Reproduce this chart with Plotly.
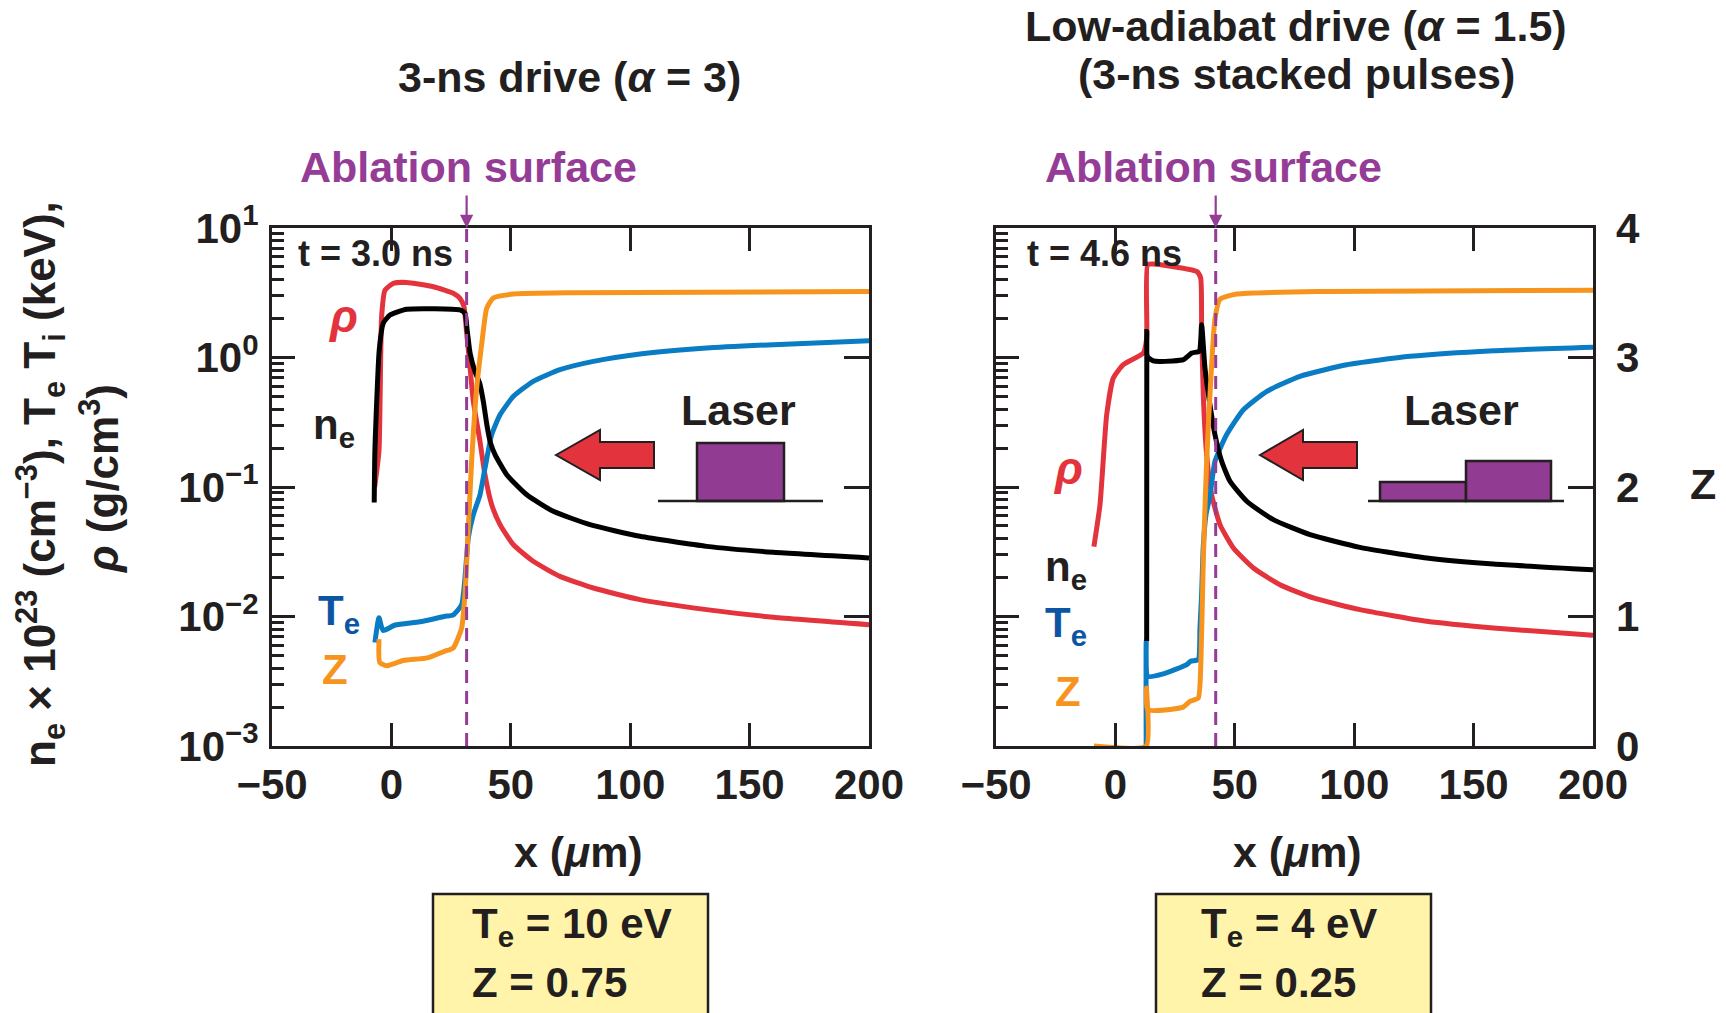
import plotly.graph_objects as go

# ---------------- data ----------------
# Left panel: 3-ns drive (alpha = 3), t = 3.0 ns
X_RHO_A = [-7.0, -5.2, -4.1, -2.7, 0.8, 6.4, 17.6, 25.9, 28.7, 30.4, 31.5, 32.9, 34.3,
           37.1, 39.2, 42.0, 45.5, 51.1, 59.4, 70.6, 84.6, 104.1, 132, 160, 200]
RHO_A = [0.10, 0.19, 2.07, 3.31, 3.74, 3.80, 3.52, 3.13, 2.86, 2.47, 1.55, 0.85, 0.459,
         0.225, 0.124, 0.0729, 0.0512, 0.0358, 0.0267, 0.0204, 0.0166, 0.0135, 0.0113,
         0.00986, 0.00865]

X_NE_A = [-7.2, -6.9, -5.1, -3.4, -0.6, 6.4, 28.7, 30.8, 31.8, 33.0, 35.0, 37.0, 38.5,
          40.0, 41.5, 43.4, 48.3, 56.7, 67.8, 83.2, 104.1, 132, 160, 200]
NE_A = [0.076, 0.193, 1.14, 1.84, 2.13, 2.36, 2.33, 2.19, 1.58, 1.07, 0.78, 0.63, 0.457,
        0.30, 0.219, 0.178, 0.1245, 0.0871, 0.0649, 0.0512, 0.0416, 0.0348, 0.0313,
        0.0283]

X_TE_A = [-6.9, -5.2, -3.5, 1.6, 11.9, 22.1, 25.9, 29.4, 30.8, 32.2, 34.3, 37.1, 39.2,
          42.0, 45.5, 51.1, 59.4, 70.6, 84.6, 104.1, 132, 160, 200]
TE_A = [0.0063, 0.0098, 0.0078, 0.0086, 0.0091, 0.0100, 0.0103, 0.0123, 0.0198, 0.0404,
        0.0611, 0.0871, 0.140, 0.254, 0.361, 0.501, 0.655, 0.805, 0.933, 1.064, 1.183,
        1.256, 1.349]

X_Z_A = [-5.2, -4.9, -2.0, 4.9, 15.1, 22.1, 25.9, 29.4, 30.8, 32.2, 33.6, 35.7, 37.8,
         39.9, 42.7, 51.1, 76.2, 200]
Z_A = [0.825, 0.646, 0.62, 0.66, 0.68, 0.73, 0.757, 0.91, 1.17, 1.68, 2.2, 2.76, 3.10,
       3.38, 3.46, 3.49, 3.50, 3.51]

# Right panel: low-adiabat drive (alpha = 1.5), t = 4.6 ns
X_RHO_B = [-9.0, -6.45, -3.65, -0.87, 3.3, 11.7, 13.1, 13.5, 15.9, 34.05, 35.7, 36.1,
           36.8, 38.2, 40.3, 43.8, 49.4, 57.8, 68.9, 82.9, 102.4, 130.4, 158.3, 200]
RHO_B = [0.0347, 0.0730, 0.361, 0.695, 0.881, 1.084, 1.416, 5.21, 5.27, 4.62, 4.11,
         1.69, 0.516, 0.178, 0.0871, 0.0512, 0.0338, 0.0237, 0.0176, 0.0139, 0.0113,
         0.00918, 0.00815, 0.00716]

X_NE_B = [13.1, 13.15, 13.4, 15.9, 24.0, 28.5, 32.0, 35.1, 36.1, 37.5, 39.6, 41.7, 44.5,
          48.0, 55.0, 66.1, 81.5, 102.4, 130.4, 158.3, 200]
NE_B = [0.00646, 1.59, 1.02, 0.94, 0.94, 0.962, 1.084, 1.117, 1.79, 0.83, 0.431, 0.2535,
        0.158, 0.1107, 0.0776, 0.056, 0.0429, 0.0342, 0.0283, 0.0254, 0.023]

X_TE_B = [12.9, 12.9, 13.6, 20.0, 29.9, 31.5, 34.7, 35.4, 36.1, 36.8, 38.0, 39.6, 41.7,
          46.6, 53.6, 63.4, 77.3, 96.9, 123.4, 158.3, 200]
TE_B = [0.0009, 0.0065, 0.00345, 0.0036, 0.00425, 0.00451, 0.00465, 0.00815, 0.0148,
        0.035, 0.062, 0.085, 0.158, 0.254, 0.395, 0.548, 0.716, 0.879, 1.021, 1.13, 1.2]

X_Z_B = [-9.0, 12.9, 13.0, 13.5, 28.4, 31.2, 34.7, 35.8, 36.8, 38.2, 40.0, 41.7, 43.8,
         50.8, 88.5, 200]
Z_B = [0, 0, 0.448, 0.28, 0.30, 0.345, 0.37, 0.654, 1.43, 2.2, 2.85, 3.3, 3.45, 3.49,
       3.51, 3.52]

ABLATION_X = [31.5, 42.0]

X_TICKS = [-50, 0, 50, 100, 150, 200]
X_TICKTEXT = ["\u221250", "0", "50", "100", "150", "200"]
Y_TICKS = [0.001, 0.01, 0.1, 1, 10]
Y_TICKTEXT = ["10<sup>\u22123</sup>", "10<sup>\u22122</sup>", "10<sup>\u22121</sup>",
              "10<sup>0</sup>", "10<sup>1</sup>"]
Z_TICKS = [0, 1, 2, 3, 4]
Z_TICKTEXT = ["0", "1", "2", "3", "4"]

# ---------------- style ----------------
W, H = 1726, 1013
ML, MR, MT, MB = 272, 133, 228, 267
PW, PH = W - ML - MR, H - MT - MB
FONT = "Liberation Sans, Arial, Helvetica, sans-serif"
INK = "#231f20"
RED = "#e3343d"
BLACK = "#000000"
BLUE = "#0a7cc4"
BLUE_TXT = "#0d55a3"
ORANGE = "#f7941d"
PURPLE = "#943c96"
LW = 5
LINE_SHAPE = dict(shape="spline", smoothing=0.5)


def px(x):
    return (x - ML) / PW


def py(y):
    return (H - MB - y) / PH


def fnt(size=43, color=INK):
    return dict(family=FONT, size=size, color=color, weight="bold")


fig = go.Figure()

panels = [
    dict(xa="x", ya="y", za="y3", rho=(X_RHO_A, RHO_A), ne=(X_NE_A, NE_A),
         te=(X_TE_A, TE_A), z=(X_Z_A, Z_A)),
    dict(xa="x2", ya="y2", za="y4", rho=(X_RHO_B, RHO_B), ne=(X_NE_B, NE_B),
         te=(X_TE_B, TE_B), z=(X_Z_B, Z_B)),
]
for p in panels:
    fig.add_trace(go.Scatter(x=p["z"][0], y=p["z"][1], xaxis=p["xa"], yaxis=p["za"],
                             mode="lines", line=dict(color=ORANGE, width=LW, **LINE_SHAPE),
                             showlegend=False, hoverinfo="skip"))
    fig.add_trace(go.Scatter(x=p["rho"][0], y=p["rho"][1], xaxis=p["xa"], yaxis=p["ya"],
                             mode="lines", line=dict(color=RED, width=LW, **LINE_SHAPE),
                             showlegend=False, hoverinfo="skip"))
    fig.add_trace(go.Scatter(x=p["te"][0], y=p["te"][1], xaxis=p["xa"], yaxis=p["ya"],
                             mode="lines", line=dict(color=BLUE, width=LW, **LINE_SHAPE),
                             showlegend=False, hoverinfo="skip"))
    fig.add_trace(go.Scatter(x=p["ne"][0], y=p["ne"][1], xaxis=p["xa"], yaxis=p["ya"],
                             mode="lines", line=dict(color=BLACK, width=LW, **LINE_SHAPE),
                             showlegend=False, hoverinfo="skip"))

d1 = [0, (869 - ML) / PW]
d2 = [(996 - ML) / PW, 1]

xcommon = dict(range=[-50, 200], tickvals=X_TICKS, ticktext=X_TICKTEXT,
               ticks="inside", ticklen=23, tickwidth=3, tickcolor=INK,
               showline=True, linewidth=3, linecolor=INK, mirror="ticks",
               showgrid=False, zeroline=False, tickfont=fnt(42),
               ticklabelstandoff=0)
ycommon = dict(type="log", range=[-3, 1], tickvals=Y_TICKS, ticktext=Y_TICKTEXT,
               ticks="inside", ticklen=23, tickwidth=3, tickcolor=INK,
               showline=True, linewidth=3, linecolor=INK, mirror=True,
               showgrid=False, zeroline=False, tickfont=fnt(42),
               ticklabelstandoff=2,
               minor=dict(dtick="D1", ticks="inside", ticklen=12, tickwidth=2.5,
                          tickcolor=INK, showgrid=False))
zcommon = dict(range=[0, 4], tickvals=Z_TICKS, ticktext=Z_TICKTEXT, side="right",
               ticks="inside", ticklen=25, tickwidth=3, tickcolor=INK,
               showline=False, showgrid=False, zeroline=False, tickfont=fnt(42),
               ticklabelstandoff=22)

fig.update_layout(
    width=W, height=H,
    margin=dict(l=ML, r=MR, t=MT, b=MB),
    paper_bgcolor="white", plot_bgcolor="white",
    font=fnt(42),
    xaxis=dict(domain=d1, anchor="y", **xcommon),
    xaxis2=dict(domain=d2, anchor="y2", **xcommon),
    yaxis=dict(domain=[0, 1], anchor="x", showticklabels=True, **ycommon),
    yaxis2=dict(domain=[0, 1], anchor="x2", showticklabels=False, **ycommon),
    yaxis3=dict(overlaying="y", anchor="x", showticklabels=False, **zcommon),
    yaxis4=dict(overlaying="y2", anchor="x2", showticklabels=True, **zcommon),
)

shapes = []
annotations = []

# ablation surface dashed lines + arrows
for xa, ax_x in (("x", ABLATION_X[0]), ("x2", ABLATION_X[1])):
    shapes.append(dict(type="line", xref=xa, yref="paper", x0=ax_x, x1=ax_x, y0=0, y1=1,
                       line=dict(color=PURPLE, width=3, dash="13px,8px"), layer="above"))
    annotations.append(dict(xref=xa, yref="paper", x=ax_x, y=1, text="", showarrow=True,
                            ax=0, ay=-34, arrowhead=2, arrowsize=1.2, arrowwidth=2.2,
                            arrowcolor=PURPLE, standoff=0))


# laser arrows (big red block arrows)
def block_arrow(tip, head_base, body_end, yc=455, hh=25, bh=13):
    return ("M {tx},{ty} L {hx},{ht} L {hx},{bt} L {ex},{bt} L {ex},{bb} "
            "L {hx},{bb} L {hx},{hb} Z").format(
        tx=px(tip), ty=py(yc), hx=px(head_base), ht=py(yc - hh), hb=py(yc + hh),
        bt=py(yc - bh), bb=py(yc + bh), ex=px(body_end))


shapes.append(dict(type="path", xref="paper", yref="paper",
                   path=block_arrow(556, 600, 654), fillcolor=RED,
                   line=dict(color=INK, width=2)))
shapes.append(dict(type="path", xref="paper", yref="paper",
                   path=block_arrow(1260, 1303, 1357), fillcolor=RED,
                   line=dict(color=INK, width=2)))

# laser pulse shapes
LASER_FILL = "#923b92"
shapes.append(dict(type="rect", xref="paper", yref="paper", x0=px(697), x1=px(784),
                   y0=py(501), y1=py(443), fillcolor=LASER_FILL,
                   line=dict(color=INK, width=2.5)))
shapes.append(dict(type="line", xref="paper", yref="paper", x0=px(658), x1=px(823),
                   y0=py(501), y1=py(501), line=dict(color=INK, width=2.5)))
shapes.append(dict(type="rect", xref="paper", yref="paper", x0=px(1380), x1=px(1466),
                   y0=py(501), y1=py(482), fillcolor=LASER_FILL,
                   line=dict(color=INK, width=2.5)))
shapes.append(dict(type="rect", xref="paper", yref="paper", x0=px(1466), x1=px(1551),
                   y0=py(501), y1=py(461), fillcolor=LASER_FILL,
                   line=dict(color=INK, width=2.5)))
shapes.append(dict(type="line", xref="paper", yref="paper", x0=px(1368), x1=px(1564),
                   y0=py(501), y1=py(501), line=dict(color=INK, width=2.5)))

# yellow boxes
BOX_FILL = "#fff4aa"
for x0, x1 in ((433, 708), (1156, 1431)):
    shapes.append(dict(type="rect", xref="paper", yref="paper", x0=px(x0), x1=px(x1),
                       y0=py(1030), y1=py(894), fillcolor=BOX_FILL,
                       line=dict(color=INK, width=2.5)))


def ann(x, y, text, size=43, color=INK, xanchor="center", angle=0):
    annotations.append(dict(xref="paper", yref="paper", x=px(x), y=py(y), text=text,
                            showarrow=False, font=fnt(size, color), xanchor=xanchor,
                            yanchor="middle", textangle=angle, borderpad=0))


# titles
ann(569, 77, "3-ns drive (<i>\u03b1</i> = 3)")
ann(1296, 26, "Low-adiabat drive (<i>\u03b1</i> = 1.5)")
ann(1296, 74, "(3-ns stacked pulses)")
ann(468, 167, "Ablation surface", color=PURPLE)
ann(1213, 167, "Ablation surface", color=PURPLE)

# axis titles
ann(578, 852, "x (<i>\u03bc</i>m)")
ann(1297, 852, "x (<i>\u03bc</i>m)")
ann(40, 484, "n<sub>e</sub> \u00d7 10<sup>23</sup> (cm<sup>\u22123</sup>), "
    "T<sub>e</sub> T<sub>i</sub> (keV),", size=44, angle=-90)
ann(99, 479, "<i>\u03c1</i> (g/cm<sup>3</sup>)", size=44, angle=-90)
ann(1703, 484, "Z")

# in-panel labels
ann(297, 253, "t = 3.0 ns", size=36, xanchor="left")
ann(1026, 253, "t = 4.6 ns", size=36, xanchor="left")
ann(343, 316, "<i>\u03c1</i>", size=46, color=RED)
ann(334, 427, "n<sub>e</sub>", size=42)
ann(339, 613, "T<sub>e</sub>", size=42, color=BLUE_TXT)
ann(335, 669, "Z", size=42, color=ORANGE)
ann(1068, 468, "<i>\u03c1</i>", size=46, color=RED)
ann(1066, 569, "n<sub>e</sub>", size=42)
ann(1066, 625, "T<sub>e</sub>", size=42, color=BLUE_TXT)
ann(1068, 691, "Z", size=42, color=ORANGE)
ann(738, 410, "Laser", size=43)
ann(1461, 410, "Laser", size=43)

# box texts
ann(471, 926, "T<sub>e</sub> = 10 eV", size=42, xanchor="left")
ann(471, 983, "Z = 0.75", size=42, xanchor="left")
ann(1200, 926, "T<sub>e</sub> = 4 eV", size=42, xanchor="left")
ann(1200, 983, "Z = 0.25", size=42, xanchor="left")

fig.update_layout(shapes=shapes, annotations=annotations)
fig.write_html("out.html")
